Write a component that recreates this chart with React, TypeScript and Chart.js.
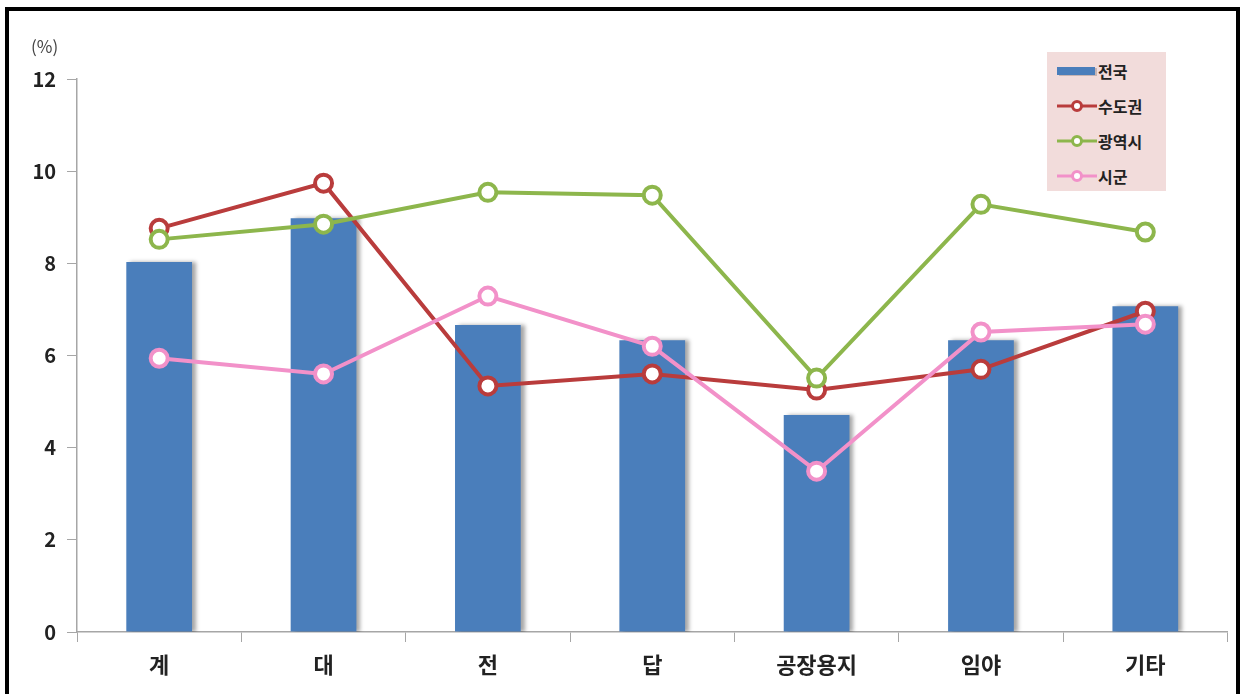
import React, { useEffect, useRef } from "react";
import { Chart, registerables } from "chart.js";

Chart.register(...registerables);

const categories = ["계", "대", "전", "답", "공장용지", "임야", "기타"];
const seriesNames = ["전국", "수도권", "광역시", "시군"];
const national = [8.03, 8.98, 6.66, 6.33, 4.71, 6.33, 7.07];
const capital = [8.76, 9.74, 5.34, 5.6, 5.25, 5.7, 6.96];
const metro = [8.52, 8.85, 9.54, 9.48, 5.51, 9.28, 8.68];
const province = [5.94, 5.6, 7.29, 6.2, 3.49, 6.51, 6.68];
const yTicks = [0, 2, 4, 6, 8, 10, 12];

const BLUE = "#4a7ebb";
const RED = "#b93c3c";
const GREEN = "#8db64c";
const PINK = "#f291c9";
const FONT = "'Noto Sans CJK KR', 'Noto Sans', sans-serif";

const barShadow = {
  id: "barShadow",
  beforeDatasetDraw(chart: any, args: any) {
    if (args.index === 0) {
      const ctx = chart.ctx;
      ctx.save();
      ctx.shadowColor = "rgba(0,0,0,0.35)";
      ctx.shadowOffsetX = 4;
      ctx.shadowOffsetY = 0;
      ctx.shadowBlur = 4;
    }
  },
  afterDatasetDraw(chart: any, args: any) {
    if (args.index === 0) chart.ctx.restore();
  },
};

function LegendItem({ name, color, bar }: { name: string; color: string; bar?: boolean }) {
  return (
    <div style={{ display: "flex", alignItems: "center", height: 35 }}>
      <svg width={42} height={20} style={{ marginLeft: 9, flex: "none" }}>
        {bar ? (
          <>
            <rect x={3} y={7} width={38} height={8} fill="rgba(0,0,0,0.18)" />
            <rect x={1} y={6} width={38} height={8} fill={color} />
          </>
        ) : (
          <>
            <line x1={1} y1={10} x2={41} y2={10} stroke={color} strokeWidth={3} />
            <circle cx={21} cy={10} r={4.5} fill="#fff" stroke={color} strokeWidth={3} />
          </>
        )}
      </svg>
      <span style={{ font: `bold 16px ${FONT}`, color: "#222", marginLeft: 0 }}>{name}</span>
    </div>
  );
}

export default function App() {
  const ref = useRef<HTMLCanvasElement | null>(null);

  useEffect(() => {
    if (!ref.current) return;
    const chart = new Chart(ref.current, {
      type: "bar",
      data: {
        labels: categories,
        datasets: [
          {
            type: "bar",
            label: seriesNames[0],
            data: national,
            backgroundColor: BLUE,
            barPercentage: 0.4,
            categoryPercentage: 1,
            order: 4,
          },
          {
            type: "line",
            label: seriesNames[1],
            data: capital,
            borderColor: RED,
            borderWidth: 4,
            pointRadius: 8.5,
            pointBorderWidth: 4,
            pointBackgroundColor: "#fff",
            pointBorderColor: RED,
            tension: 0,
            order: 3,
          },
          {
            type: "line",
            label: seriesNames[2],
            data: metro,
            borderColor: GREEN,
            borderWidth: 4,
            pointRadius: 8.5,
            pointBorderWidth: 4,
            pointBackgroundColor: "#fff",
            pointBorderColor: GREEN,
            tension: 0,
            order: 2,
          },
          {
            type: "line",
            label: seriesNames[3],
            data: province,
            borderColor: PINK,
            borderWidth: 4,
            pointRadius: 8.5,
            pointBorderWidth: 4,
            pointBackgroundColor: "#fff",
            pointBorderColor: PINK,
            tension: 0,
            order: 1,
          },
        ] as any,
      },
      options: {
        responsive: false,
        animation: false,
        devicePixelRatio: 1,
        layout: { padding: { top: 79, right: 12, left: 0, bottom: 0 } },
        plugins: {
          legend: { display: false },
          tooltip: { enabled: false },
        },
        scales: {
          x: {
            type: "category",
            grid: { drawOnChartArea: false, tickLength: 10, color: "#a6a6a6", offset: true },
            border: { color: "#a6a6a6", width: 1.5 },
            ticks: {
              font: { family: FONT, size: 22, weight: "bold" },
              color: "#222",
              padding: 9,
              maxRotation: 0,
            },
            afterFit: (s: any) => {
              s.height = 62;
            },
          },
          y: {
            min: 0,
            max: 12,
            grid: { drawOnChartArea: false, tickLength: 10, color: "#a6a6a6" },
            border: { color: "#a6a6a6", width: 1.5 },
            ticks: {
              font: { family: FONT, size: 20, weight: "bold" },
              color: "#222",
              padding: 11,
            },
            afterBuildTicks: (s: any) => {
              s.ticks = yTicks.map((v) => ({ value: v }));
            },
            afterFit: (s: any) => {
              s.width = 77;
            },
          },
        },
      } as any,
      plugins: [barShadow],
    });
    return () => chart.destroy();
  }, []);

  return (
    <div
      style={{
        position: "fixed",
        left: 0,
        top: 0,
        width: 1240,
        height: 694,
        background: "#fff",
        overflow: "hidden",
      }}
    >
      <canvas ref={ref} width={1240} height={694} style={{ position: "absolute", left: 0, top: 0 }} />
      <div
        style={{
          position: "absolute",
          left: 31,
          top: 33,
          font: `17px ${FONT}`,
          color: "#444",
        }}
      >
        (%)
      </div>
      <div
        style={{
          position: "absolute",
          left: 1047,
          top: 52,
          width: 119,
          height: 139,
          background: "#f2dcdb",
          boxSizing: "border-box",
          paddingTop: 1,
        }}
      >
        <LegendItem name={seriesNames[0]} color={BLUE} bar />
        <LegendItem name={seriesNames[1]} color={RED} />
        <LegendItem name={seriesNames[2]} color={GREEN} />
        <LegendItem name={seriesNames[3]} color={PINK} />
      </div>
      <div
        style={{
          position: "absolute",
          left: 5,
          top: 7,
          width: 1235,
          height: 710,
          border: "4px solid #000",
          boxSizing: "border-box",
          pointerEvents: "none",
        }}
      />
    </div>
  );
}
